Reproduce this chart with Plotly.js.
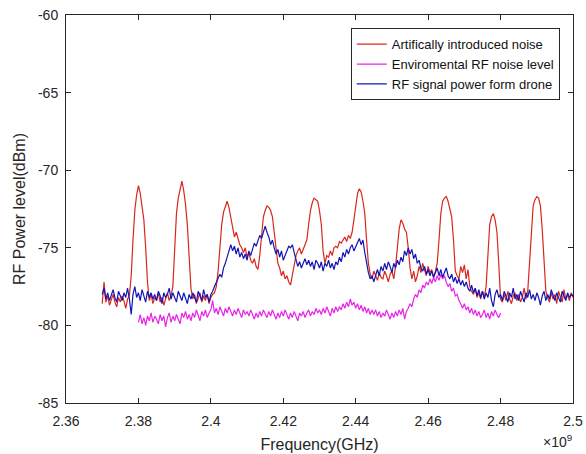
<!DOCTYPE html>
<html>
<head>
<meta charset="utf-8">
<script src="https://cdn.plot.ly/plotly-3.0.1.min.js"></script>
<style>html,body{margin:0;padding:0;background:#fff}#chart{width:586px;height:454px}</style>
</head>
<body>
<div id="chart"></div>
<script>
// ---- data (frequency in GHz, power in dBm), sampled every 0.5 MHz ----
const seriesNames = ["Artifically introduced noise", "Enviromental RF noise level", "RF signal power form drone"];
const stepGHz = 0.0005;
const redStartGHz = 2.370;
const blueStartGHz = 2.370;
const magentaStartGHz = 2.380;

const redPower = [
-78.6,-77.2,-78.5,-78.1,-78.7,-78.3,-78.0,-78.5,-78.8,-78.2,
-78.5,-78.1,-78.4,-78.9,-78.3,-78.1,-76.8,-74.5,-72.6,-71.6,
-71.0,-71.5,-72.3,-73.2,-75.0,-77.2,-78.4,-78.0,-78.6,-78.2,
-78.4,-77.9,-78.5,-78.2,-78.7,-78.3,-77.9,-78.4,-78.1,-77.5,
-75.0,-72.8,-71.8,-71.2,-70.7,-71.3,-72.2,-73.5,-75.8,-77.6,
-78.3,-78.0,-78.6,-78.2,-77.9,-78.5,-78.1,-78.4,-78.0,-78.6,
-78.2,-78.0,-77.9,-77.5,-76.5,-75.0,-73.5,-72.7,-72.3,-72.0,
-72.4,-73.0,-73.8,-74.3,-74.0,-74.5,-74.8,-75.0,-75.3,-75.0,
-75.6,-75.3,-75.8,-76.0,-75.7,-76.2,-76.4,-75.5,-74.2,-73.0,
-72.6,-72.3,-72.4,-72.6,-73.0,-74.0,-75.2,-76.0,-76.3,-76.8,
-76.5,-77.0,-76.8,-77.2,-77.4,-76.8,-76.0,-75.5,-75.2,-75.0,
-75.4,-75.1,-74.8,-74.5,-73.5,-72.6,-72.1,-71.8,-71.9,-72.0,
-72.6,-73.5,-75.2,-76.0,-75.5,-75.6,-75.2,-75.5,-75.0,-74.9,
-75.0,-74.6,-74.7,-74.5,-74.3,-74.6,-74.2,-74.4,-74.0,-73.2,
-72.2,-71.5,-71.2,-71.4,-72.0,-72.8,-74.5,-76.0,-76.7,-77.0,
-76.5,-76.8,-77.1,-76.6,-76.9,-77.0,-76.5,-76.8,-77.2,-76.7,
-76.5,-77.0,-76.2,-75.0,-73.8,-73.2,-73.4,-73.8,-74.0,-75.0,
-76.3,-77.0,-76.5,-77.2,-76.8,-76.2,-76.6,-76.0,-76.4,-76.8,
-76.2,-76.6,-76.4,-76.9,-76.5,-76.0,-74.5,-72.8,-72.0,-71.8,
-71.7,-72.0,-72.5,-73.0,-74.5,-76.5,-76.8,-77.0,-76.2,-76.6,
-76.1,-77.0,-76.4,-77.5,-77.8,-78.0,-77.6,-78.2,-77.9,-78.3,
-77.8,-78.2,-77.5,-75.0,-73.5,-73.0,-72.8,-73.2,-74.0,-76.0,
-78.3,-78.5,-78.0,-78.4,-77.8,-78.3,-78.6,-78.1,-77.9,-78.4,
-78.0,-78.5,-78.2,-77.6,-78.3,-77.8,-76.0,-73.5,-72.3,-71.9,
-71.7,-71.8,-72.3,-73.8,-76.0,-77.8,-78.2,-78.5,-77.9,-78.3,
-78.0,-78.6,-77.8,-78.2,-78.5,-77.7,-78.3,-78.0,-78.4,-77.9,
-78.2
];

const magentaPower = [
-79.8,-79.3,-79.9,-79.5,-80.0,-79.4,-79.7,-79.2,-79.8,-79.4,
-79.6,-79.9,-79.3,-79.7,-79.4,-80.1,-79.5,-79.2,-79.8,-79.4,
-79.7,-79.3,-79.6,-79.9,-79.2,-79.5,-79.1,-79.6,-79.3,-79.7,
-79.2,-79.5,-79.0,-79.4,-79.7,-79.1,-79.4,-79.0,-79.5,-79.2,
-79.0,-78.4,-79.2,-78.9,-79.3,-78.8,-79.1,-79.4,-78.9,-79.2,
-78.8,-79.1,-79.4,-79.0,-79.3,-78.9,-79.2,-79.5,-79.0,-79.3,
-79.1,-79.4,-79.0,-79.3,-79.6,-79.2,-79.5,-79.1,-79.4,-79.0,
-79.3,-79.5,-79.1,-79.4,-79.0,-79.3,-79.6,-79.2,-79.5,-79.1,
-79.4,-79.0,-79.3,-79.6,-79.2,-79.5,-79.1,-79.4,-79.7,-79.2,
-79.4,-79.1,-79.5,-79.2,-79.0,-79.4,-79.1,-79.3,-78.9,-79.2,
-79.0,-79.3,-78.9,-79.2,-78.8,-79.1,-79.4,-78.9,-79.2,-78.8,
-79.1,-78.8,-79.0,-78.6,-78.9,-78.5,-78.8,-78.3,-78.7,-78.5,
-78.9,-78.6,-79.0,-78.7,-79.1,-78.8,-79.2,-78.9,-79.3,-79.0,
-79.3,-79.0,-79.4,-79.1,-79.5,-79.2,-79.4,-79.0,-79.3,-79.6,
-79.2,-79.5,-79.1,-79.4,-79.0,-79.3,-78.9,-79.6,-79.1,-78.9,
-78.6,-78.8,-78.3,-78.0,-78.2,-77.7,-77.9,-77.4,-77.6,-77.2,
-77.4,-77.0,-77.3,-76.9,-77.2,-76.8,-77.1,-76.7,-77.0,-76.8,
-77.2,-77.5,-77.3,-77.8,-77.6,-78.1,-78.0,-78.4,-78.6,-78.9,
-78.6,-79.0,-78.8,-79.2,-78.9,-79.3,-79.0,-79.4,-79.1,-79.5,
-79.3,-79.0,-79.5,-79.2,-79.6,-79.1,-79.4,-79.0,-79.3,-79.5,
-79.2
];

const bluePower = [
-78.0,-77.6,-78.3,-77.9,-78.4,-78.0,-77.7,-78.2,-78.5,-77.8,
-78.1,-78.4,-77.9,-78.2,-77.6,-78.3,-79.3,-78.0,-77.5,-78.2,
-77.9,-78.4,-77.7,-78.1,-78.5,-77.8,-78.2,-77.9,-78.3,-78.0,
-78.4,-77.8,-78.1,-78.6,-77.9,-78.2,-78.0,-77.6,-78.3,-77.9,
-78.2,-78.5,-77.8,-78.1,-78.4,-77.9,-78.2,-78.6,-78.0,-78.3,
-77.9,-78.2,-78.5,-77.8,-78.1,-78.4,-77.7,-78.2,-78.0,-78.5,
-78.0,-77.8,-77.5,-77.2,-77.0,-76.7,-76.9,-76.3,-76.0,-75.6,
-75.2,-74.8,-75.2,-74.9,-75.4,-75.0,-75.6,-75.3,-75.7,-75.4,
-75.8,-75.2,-75.5,-75.0,-74.7,-74.9,-74.5,-74.2,-74.4,-73.9,
-73.6,-74.0,-74.3,-74.8,-74.5,-75.0,-75.4,-75.1,-75.6,-75.2,
-75.8,-75.5,-75.2,-74.9,-75.0,-74.8,-75.3,-75.8,-76.2,-75.9,
-76.3,-76.0,-75.7,-76.1,-75.8,-76.2,-75.9,-76.4,-75.8,-76.0,
-76.3,-75.9,-76.5,-76.0,-76.2,-75.8,-76.3,-76.0,-76.4,-75.9,
-76.1,-75.6,-75.9,-75.3,-75.6,-75.1,-75.4,-75.0,-74.8,-75.2,
-74.9,-74.6,-74.4,-74.8,-74.5,-75.3,-76.0,-76.6,-77.0,-76.8,
-77.2,-76.7,-76.4,-76.8,-76.2,-76.5,-76.0,-76.4,-75.9,-76.2,
-76.6,-76.0,-76.3,-75.8,-76.1,-75.6,-75.9,-75.2,-75.5,-75.0,
-75.4,-75.1,-75.7,-75.4,-76.0,-75.8,-76.3,-76.5,-76.2,-76.7,
-76.4,-76.8,-76.5,-76.9,-76.6,-76.3,-76.8,-76.4,-76.9,-76.6,
-76.3,-76.8,-77.0,-76.7,-77.2,-76.9,-77.3,-77.0,-77.4,-77.1,
-77.5,-77.2,-77.6,-77.8,-77.4,-77.9,-77.6,-78.1,-77.7,-78.2,
-77.8,-78.3,-77.9,-78.2,-77.6,-78.4,-78.8,-78.0,-77.7,-78.2,
-78.0,-78.4,-77.8,-78.1,-78.5,-77.9,-78.2,-77.6,-78.3,-78.0,
-78.4,-77.8,-78.1,-78.5,-77.9,-78.2,-77.7,-78.3,-78.0,-78.4,
-77.9,-78.2,-78.7,-78.1,-77.8,-78.4,-78.0,-78.3,-77.7,-78.1,
-78.4,-77.9,-78.2,-78.5,-77.8,-78.1,-78.4,-77.9,-78.2,-78.0,
-78.1
];

const xTickVals = [2.36, 2.38, 2.40, 2.42, 2.44, 2.46, 2.48, 2.50];
const xTickText = ["2.36", "2.38", "2.4", "2.42", "2.44", "2.46", "2.48", "2.5"];
const yTickVals = [-85, -80, -75, -70, -65, -60];
const yTickText = ["-85", "-80", "-75", "-70", "-65", "-60"];

// frequency sample grid for each recorded sweep
function freqGrid(startGHz, n) {
  const f = [];
  for (let i = 0; i < n; i++) f.push(+(startGHz + i * stepGHz).toFixed(4));
  return f;
}

const FONT = "Liberation Sans, Arial, Helvetica, sans-serif";
const AXC = "#262626";

const traces = [
  {x: freqGrid(redStartGHz, redPower.length), y: redPower, name: seriesNames[0],
   type: "scatter", mode: "lines", line: {color: "#d8281c", width: 1.2}},
  {x: freqGrid(magentaStartGHz, magentaPower.length), y: magentaPower, name: seriesNames[1],
   type: "scatter", mode: "lines", line: {color: "#e626e6", width: 1.2}},
  {x: freqGrid(blueStartGHz, bluePower.length), y: bluePower, name: seriesNames[2],
   type: "scatter", mode: "lines", line: {color: "#1414b4", width: 1.2}}
];

const axisCommon = {
  showline: true, linecolor: AXC, linewidth: 1, mirror: "allticks",
  ticks: "inside", ticklen: 5, tickwidth: 1, tickcolor: AXC,
  showgrid: false, zeroline: false,
  tickfont: {family: FONT, size: 14, color: AXC}
};

const layout = {
  width: 586, height: 454,
  margin: {l: 66, r: 13, t: 15, b: 51, pad: 0},
  paper_bgcolor: "#ffffff", plot_bgcolor: "#ffffff",
  font: {family: FONT, color: AXC},
  showlegend: true,
  xaxis: Object.assign({}, axisCommon, {
    range: [2.36, 2.5], tickvals: xTickVals, ticktext: xTickText,
    ticklabelstandoff: 5,
    title: {text: "Frequency(GHz)", font: {family: FONT, size: 16, color: AXC}, standoff: 11}
  }),
  yaxis: Object.assign({}, axisCommon, {
    range: [-85, -60], tickvals: yTickVals, ticktext: yTickText,
    ticklabelstandoff: 4,
    title: {text: "RF Power level(dBm)", font: {family: FONT, size: 16, color: AXC}, standoff: 8}
  }),
  legend: {
    x: 0.974, y: 0.966, xanchor: "right", yanchor: "top",
    bgcolor: "#ffffff", bordercolor: AXC, borderwidth: 1,
    font: {family: FONT, size: 13, color: "#111111"},
    tracegroupgap: 0
  },
  annotations: [{
    xref: "paper", yref: "paper", x: 1, y: -0.098, xanchor: "right", yanchor: "middle",
    borderpad: 0,
    text: "×10<sup>9</sup>", showarrow: false, font: {family: FONT, size: 14, color: AXC}
  }]
};

Plotly.newPlot("chart", traces, layout, {displayModeBar: false, staticPlot: true});
</script>
</body>
</html>
